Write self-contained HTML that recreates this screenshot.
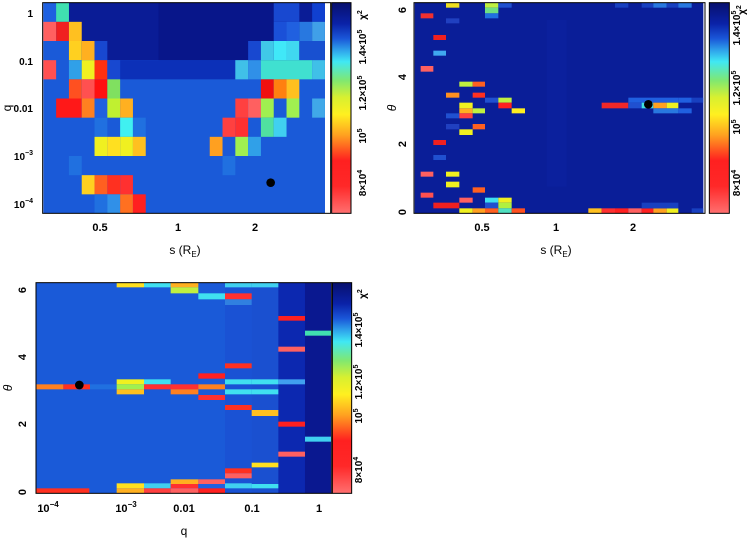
<!DOCTYPE html>
<html><head><meta charset="utf-8"><style>
html,body{margin:0;padding:0;background:#fff;width:754px;height:539px;overflow:hidden}
svg text{font-family:"Liberation Sans",sans-serif;fill:#000}
</style></head><body>
<svg width="754" height="539" viewBox="0 0 754 539" xmlns="http://www.w3.org/2000/svg">
<defs>
<linearGradient id="cb" x1="0" y1="0" x2="0" y2="1">
<stop offset="0" stop-color="#08106e"/>
<stop offset="0.1" stop-color="#0a22a8"/>
<stop offset="0.17" stop-color="#1a56d8"/>
<stop offset="0.23" stop-color="#30a8ec"/>
<stop offset="0.28" stop-color="#40e8f4"/>
<stop offset="0.37" stop-color="#80e870"/>
<stop offset="0.45" stop-color="#d8f030"/>
<stop offset="0.53" stop-color="#fff020"/>
<stop offset="0.63" stop-color="#ffa020"/>
<stop offset="0.75" stop-color="#ff2020"/>
<stop offset="0.87" stop-color="#ff2828"/>
<stop offset="1" stop-color="#ff7070"/>
</linearGradient>
</defs>

<!-- PANEL 1 -->
<g transform="scale(0.33333)">
<rect x="130" y="8" width="845" height="632" fill="#1a5ad8"/>
<g transform="translate(130,8) scale(38.4,57.5)">
<rect x="2" y="0" width="20" height="3" fill="#0a1c96"/>
<rect x="9" y="0" width="10" height="3" fill="#08168a"/>
<rect x="0" y="0" width="1" height="1" fill="#1e60e0"/><rect x="1" y="0" width="1" height="1" fill="#40e0b0"/>
<rect x="18" y="0" width="2" height="1" fill="#1848d0"/><rect x="21" y="0" width="1" height="1" fill="#1040d0"/>
<rect x="0" y="1" width="1" height="1" fill="#ff6060"/><rect x="1" y="1" width="1" height="1" fill="#f02020"/><rect x="2" y="1" width="1" height="1" fill="#ffc020"/>
<rect x="18" y="1" width="1" height="1" fill="#1a50d8"/><rect x="19" y="1" width="1" height="1" fill="#2060e0"/><rect x="20" y="1" width="1" height="1" fill="#2878e0"/><rect x="21" y="1" width="1" height="1" fill="#40a0e8"/>
<rect x="0" y="2" width="2" height="1" fill="#1a5ad8"/><rect x="2" y="2" width="1" height="1" fill="#ffd020"/><rect x="3" y="2" width="1" height="1" fill="#ffb020"/><rect x="4" y="2" width="1" height="1" fill="#1848d0"/>
<rect x="16" y="2" width="1" height="1" fill="#1848d0"/><rect x="17" y="2" width="1" height="1" fill="#40c8e8"/><rect x="18" y="2" width="1" height="1" fill="#40e8f8"/><rect x="19" y="2" width="1" height="1" fill="#40d8f0"/><rect x="20" y="2" width="2" height="1" fill="#1850d0"/>
<rect x="0" y="3" width="1" height="1" fill="#ff5050"/><rect x="2" y="3" width="1" height="1" fill="#30a0e8"/><rect x="3" y="3" width="1" height="1" fill="#f0f020"/><rect x="4" y="3" width="1" height="1" fill="#ff3010"/><rect x="5" y="3" width="1" height="1" fill="#1848d0"/>
<rect x="6" y="3" width="9" height="1" fill="#0c30b8"/><rect x="15" y="3" width="1" height="1" fill="#40c0e8"/><rect x="16" y="3" width="1" height="1" fill="#3090e8"/><rect x="17" y="3" width="4" height="1" fill="#40e0d0"/><rect x="21" y="3" width="1" height="1" fill="#40c0e8"/>
<rect x="2" y="4" width="1" height="1" fill="#ff5020"/><rect x="3" y="4" width="1" height="1" fill="#ff5050"/><rect x="4" y="4" width="1" height="1" fill="#ff1010"/><rect x="5" y="4" width="1" height="1" fill="#80e060"/>
<rect x="17" y="4" width="1" height="1" fill="#f01010"/><rect x="18" y="4" width="1" height="1" fill="#ff8010"/><rect x="19" y="4" width="1" height="1" fill="#ffc020"/>
<rect x="1" y="5" width="2" height="1" fill="#ff1818"/><rect x="3" y="5" width="1" height="1" fill="#ff8020"/><rect x="4" y="5" width="1" height="1" fill="#2060e0"/><rect x="5" y="5" width="1" height="1" fill="#c0f030"/><rect x="6" y="5" width="1" height="1" fill="#ffb020"/>
<rect x="15" y="5" width="1" height="1" fill="#ff4040"/><rect x="16" y="5" width="1" height="1" fill="#ff6060"/><rect x="17" y="5" width="1" height="1" fill="#a0f050"/><rect x="19" y="5" width="1" height="1" fill="#a0f050"/><rect x="21" y="5" width="1" height="1" fill="#40a8e8"/>
<rect x="4" y="6" width="1" height="1" fill="#2070e0"/><rect x="6" y="6" width="1" height="1" fill="#40f0f0"/><rect x="7" y="6" width="1" height="1" fill="#2070e0"/><rect x="14" y="6" width="1" height="1" fill="#ff4040"/><rect x="15" y="6" width="1" height="1" fill="#ff3030"/><rect x="17" y="6" width="1" height="1" fill="#50e0a0"/><rect x="18" y="6" width="1" height="1" fill="#40d0f0"/>
<rect x="4" y="7" width="1" height="1" fill="#f0f020"/><rect x="5" y="7" width="1" height="1" fill="#ffe020"/><rect x="6" y="7" width="1" height="1" fill="#f0f020"/><rect x="7" y="7" width="1" height="1" fill="#ffc020"/><rect x="13" y="7" width="1" height="1" fill="#ffa020"/><rect x="15" y="7" width="1" height="1" fill="#a0f050"/><rect x="16" y="7" width="1" height="1" fill="#30a0e8"/>
<rect x="2" y="8" width="1" height="1" fill="#2070e0"/><rect x="14" y="8" width="1" height="1" fill="#2070e0"/>
<rect x="3" y="9" width="1" height="1" fill="#ffd020"/><rect x="4" y="9" width="1" height="1" fill="#ff6020"/><rect x="5" y="9" width="1" height="1" fill="#ff3020"/><rect x="6" y="9" width="1" height="1" fill="#ff3030"/>
<rect x="4" y="10" width="1" height="1" fill="#2070e0"/><rect x="5" y="10" width="1" height="1" fill="#3090e8"/><rect x="6" y="10" width="1" height="1" fill="#ff7020"/><rect x="7" y="10" width="1" height="1" fill="#ff2020"/>
</g>
<circle cx="812" cy="548" r="13" fill="#000"/>
<rect x="128" y="8" width="864" height="632" fill="none" stroke="#000" stroke-width="3"/>
<rect x="995" y="8" width="58" height="632" fill="url(#cb)" stroke="#000" stroke-width="3"/>
</g>
<text transform="translate(11,108) rotate(-90)" font-size="12" text-anchor="middle">q</text>
<g font-size="10" font-weight="bold" text-anchor="end">
<text x="33" y="17">1</text>
<text x="33" y="65">0.1</text>
<text x="33" y="112">0.01</text>
<text x="33" y="160">10<tspan dy="-5" font-size="7">−3</tspan></text>
<text x="33" y="208">10<tspan dy="-5" font-size="7">−4</tspan></text>
</g>
<g font-size="11" font-weight="bold" text-anchor="middle">
<text x="100" y="231">0.5</text>
<text x="178" y="231">1</text>
<text x="255" y="231">2</text>
</g>
<text x="185" y="254" font-size="12" text-anchor="middle">s (R<tspan dy="3" font-size="8">E</tspan><tspan dy="-3">)</tspan></text>
<g font-size="10" font-weight="bold">
<text transform="translate(366,15) rotate(-90)" text-anchor="middle">χ<tspan dy="-4" font-size="7">2</tspan></text>
<text transform="translate(366,47) rotate(-90)" text-anchor="middle">1.4×10<tspan dy="-4" font-size="7">5</tspan></text>
<text transform="translate(366,93) rotate(-90)" text-anchor="middle">1.2×10<tspan dy="-4" font-size="7">5</tspan></text>
<text transform="translate(366,136) rotate(-90)" text-anchor="middle">10<tspan dy="-4" font-size="7">5</tspan></text>
<text transform="translate(366,183) rotate(-90)" text-anchor="middle">8×10<tspan dy="-4" font-size="7">4</tspan></text>
</g>

<!-- PANEL 2 -->
<g transform="translate(380,0) scale(0.33333)">
<rect x="104" y="8" width="866" height="632" fill="#0a1e98"/>
<rect x="500" y="60" width="60" height="500" fill="#0c22a0" opacity="0.6"/>
<g>
<rect x="198" y="8" width="40" height="15" fill="#f0e020"/>
<rect x="315" y="8" width="40" height="15" fill="#c0f040"/><rect x="355" y="8" width="40" height="15" fill="#2050d0"/>
<rect x="122" y="40" width="38" height="15" fill="#f03030"/>
<rect x="315" y="23" width="40" height="17" fill="#70e080"/><rect x="315" y="40" width="40" height="15" fill="#2070e0"/>
<rect x="198" y="55" width="40" height="15" fill="#2040c0"/>
<rect x="160" y="105" width="38" height="15" fill="#f02020"/>
<rect x="160" y="152" width="38" height="15" fill="#40a8f0"/>
<rect x="122" y="198" width="38" height="17" fill="#ff6060"/>
<rect x="238" y="245" width="40" height="15" fill="#c0f040"/><rect x="278" y="245" width="37" height="15" fill="#ff6020"/>
<rect x="198" y="278" width="40" height="15" fill="#ff9020"/><rect x="278" y="278" width="37" height="15" fill="#ff3020"/>
<rect x="315" y="293" width="40" height="15" fill="#2050d0"/><rect x="355" y="293" width="40" height="15" fill="#c0f040"/>
<rect x="238" y="308" width="40" height="17" fill="#f0f020"/><rect x="355" y="308" width="40" height="17" fill="#ff2020"/>
<rect x="238" y="325" width="40" height="15" fill="#ffb020"/><rect x="278" y="325" width="37" height="15" fill="#c0f040"/><rect x="395" y="325" width="40" height="15" fill="#ffee20"/>
<rect x="198" y="340" width="40" height="15" fill="#2050d0"/><rect x="238" y="340" width="40" height="15" fill="#ff4040"/>
<rect x="198" y="372" width="40" height="16" fill="#2040c0"/><rect x="278" y="372" width="37" height="16" fill="#ff6020"/>
<rect x="238" y="388" width="40" height="17" fill="#f0f020"/>
<rect x="160" y="420" width="38" height="15" fill="#f02020"/>
<rect x="160" y="465" width="38" height="15" fill="#2050d0"/>
<rect x="122" y="515" width="38" height="15" fill="#ff6060"/>
<rect x="198" y="515" width="40" height="15" fill="#f0f020"/>
<rect x="198" y="545" width="40" height="17" fill="#f0f020"/>
<rect x="278" y="562" width="37" height="16" fill="#ff6020"/>
<rect x="122" y="578" width="38" height="15" fill="#ff5050"/>
<rect x="238" y="593" width="40" height="15" fill="#ff6060"/>
<rect x="315" y="593" width="40" height="15" fill="#40e0f0"/><rect x="355" y="593" width="40" height="15" fill="#f0f020"/>
<rect x="160" y="608" width="78" height="17" fill="#f02020"/><rect x="315" y="608" width="40" height="17" fill="#2050d0"/><rect x="355" y="608" width="40" height="17" fill="#b0f040"/>
<rect x="238" y="625" width="40" height="15" fill="#f0f020"/><rect x="278" y="625" width="37" height="15" fill="#ffa020"/><rect x="315" y="625" width="40" height="15" fill="#ff6020"/><rect x="355" y="625" width="40" height="15" fill="#50e0c0"/><rect x="395" y="625" width="40" height="15" fill="#ff5020"/>
<rect x="625" y="625" width="40" height="15" fill="#ffc020"/><rect x="665" y="625" width="40" height="15" fill="#ff3030"/><rect x="705" y="625" width="40" height="15" fill="#ff2020"/><rect x="745" y="625" width="40" height="15" fill="#ff6060"/><rect x="785" y="625" width="35" height="15" fill="#ff2020"/><rect x="820" y="625" width="40" height="15" fill="#ffa020"/><rect x="860" y="625" width="35" height="15" fill="#f0f020"/><rect x="935" y="625" width="35" height="15" fill="#1840c0"/>
<rect x="785" y="608" width="110" height="17" fill="#1840c0"/>
<rect x="745" y="293" width="150" height="15" fill="#2060e0"/><rect x="895" y="293" width="40" height="15" fill="#2060e0"/><rect x="935" y="293" width="35" height="15" fill="#1840c0"/>
<rect x="665" y="308" width="80" height="17" fill="#f02828"/><rect x="745" y="308" width="40" height="17" fill="#2050d0"/><rect x="785" y="308" width="35" height="17" fill="#40e0e0"/><rect x="820" y="308" width="40" height="17" fill="#ffa020"/><rect x="860" y="308" width="35" height="17" fill="#f0f020"/>
<rect x="820" y="325" width="75" height="15" fill="#2878e0"/><rect x="895" y="325" width="40" height="15" fill="#2060e0"/>
<rect x="705" y="8" width="40" height="15" fill="#1840c0"/><rect x="785" y="8" width="35" height="15" fill="#1840c0"/><rect x="820" y="8" width="40" height="15" fill="#2878e0"/><rect x="860" y="8" width="35" height="15" fill="#1840c0"/><rect x="895" y="8" width="40" height="15" fill="#2878e0"/>
</g>
<circle cx="805" cy="313" r="13" fill="#000"/>
<rect x="102" y="8" width="873" height="632" fill="none" stroke="#000" stroke-width="3"/>
<rect x="988" y="8" width="60" height="632" fill="url(#cb)" stroke="#000" stroke-width="3"/>
</g>
<text transform="translate(396,108) rotate(-90)" font-size="12" text-anchor="middle" font-style="italic">θ</text>
<g font-size="11" font-weight="bold" text-anchor="middle">
<text transform="translate(406,212) rotate(-90)">0</text>
<text transform="translate(406,144) rotate(-90)">2</text>
<text transform="translate(406,77) rotate(-90)">4</text>
<text transform="translate(406,10) rotate(-90)">6</text>
<text x="482" y="231">0.5</text><text x="556" y="231">1</text><text x="633" y="231">2</text>
</g>
<text x="556" y="254" font-size="12" text-anchor="middle">s (R<tspan dy="3" font-size="8">E</tspan><tspan dy="-3">)</tspan></text>
<g font-size="10" font-weight="bold">
<text transform="translate(745,10) rotate(-90)" text-anchor="middle">χ<tspan dy="-4" font-size="7">2</tspan></text>
<text transform="translate(740,28) rotate(-90)" text-anchor="middle">1.4×10<tspan dy="-4" font-size="7">5</tspan></text>
<text transform="translate(740,88) rotate(-90)" text-anchor="middle">1.2×10<tspan dy="-4" font-size="7">5</tspan></text>
<text transform="translate(740,127) rotate(-90)" text-anchor="middle">10<tspan dy="-4" font-size="7">5</tspan></text>
<text transform="translate(740,183) rotate(-90)" text-anchor="middle">8×10<tspan dy="-4" font-size="7">4</tspan></text>
</g>

<!-- PANEL 3 -->
<g transform="translate(0,280) scale(0.33333)">
<rect x="108" y="8" width="885" height="632" fill="#1a5ad8"/>
<rect x="675" y="8" width="80" height="632" fill="#1a52d4"/>
<rect x="755" y="8" width="80" height="632" fill="#1a50d0"/>
<rect x="835" y="8" width="80" height="632" fill="#0c28b0"/>
<rect x="915" y="8" width="78" height="632" fill="#0a1890"/>
<rect x="108" y="625" width="160" height="15" fill="#ff3020"/>
<rect x="108" y="313" width="82" height="15" fill="#ff8020"/><rect x="190" y="313" width="80" height="15" fill="#ff3020"/><rect x="270" y="313" width="80" height="15" fill="#2070e0"/>
<rect x="350" y="8" width="82" height="14" fill="#ffe020"/><rect x="350" y="298" width="82" height="15" fill="#f0f020"/><rect x="350" y="313" width="82" height="15" fill="#a0f050"/><rect x="350" y="328" width="82" height="15" fill="#ffc020"/><rect x="350" y="610" width="82" height="15" fill="#ffe020"/><rect x="350" y="625" width="82" height="15" fill="#ffb020"/>
<rect x="432" y="8" width="80" height="14" fill="#40e0f0"/><rect x="432" y="298" width="80" height="15" fill="#40e0f0"/><rect x="432" y="313" width="80" height="15" fill="#ff3030"/><rect x="432" y="610" width="80" height="15" fill="#40d0f0"/><rect x="432" y="625" width="80" height="15" fill="#ff4040"/>
<rect x="512" y="8" width="83" height="14" fill="#ffb020"/><rect x="512" y="22" width="83" height="18" fill="#c0f040"/><rect x="512" y="313" width="83" height="15" fill="#ff3030"/><rect x="512" y="328" width="83" height="15" fill="#ff8020"/><rect x="512" y="598" width="83" height="14" fill="#ffb020"/><rect x="512" y="612" width="83" height="13" fill="#ff3030"/><rect x="512" y="625" width="83" height="15" fill="#ff6060"/>
<rect x="595" y="40" width="80" height="18" fill="#40e0f0"/><rect x="595" y="280" width="80" height="16" fill="#ff2020"/><rect x="595" y="313" width="80" height="15" fill="#ff8020"/><rect x="595" y="345" width="80" height="15" fill="#ff3030"/><rect x="595" y="598" width="80" height="14" fill="#ff6060"/><rect x="595" y="612" width="80" height="13" fill="#2060e0"/><rect x="595" y="625" width="80" height="15" fill="#ff2020"/>
<rect x="675" y="8" width="80" height="14" fill="#40d0f0"/><rect x="675" y="40" width="80" height="18" fill="#ff3030"/><rect x="675" y="58" width="80" height="17" fill="#3080e0"/><rect x="675" y="250" width="80" height="15" fill="#ff3020"/><rect x="675" y="298" width="80" height="15" fill="#40e0f0"/><rect x="675" y="328" width="80" height="15" fill="#40e0f0"/><rect x="675" y="375" width="80" height="15" fill="#ff3020"/><rect x="675" y="565" width="80" height="15" fill="#ff3020"/><rect x="675" y="580" width="80" height="15" fill="#ff6060"/><rect x="675" y="610" width="80" height="15" fill="#40d0f0"/>
<rect x="755" y="8" width="80" height="14" fill="#40d0f0"/><rect x="755" y="298" width="80" height="15" fill="#40e0f0"/><rect x="755" y="328" width="80" height="15" fill="#40e0f0"/><rect x="755" y="390" width="80" height="18" fill="#ffc020"/><rect x="755" y="548" width="80" height="14" fill="#ffe020"/><rect x="755" y="612" width="80" height="13" fill="#40e0f0"/>
<rect x="835" y="108" width="80" height="14" fill="#ff2020"/><rect x="835" y="200" width="80" height="15" fill="#ff6060"/><rect x="835" y="298" width="80" height="15" fill="#40a0f0"/><rect x="835" y="425" width="80" height="15" fill="#ff2020"/><rect x="835" y="515" width="80" height="15" fill="#ff6060"/>
<rect x="915" y="152" width="78" height="15" fill="#40e0b0"/><rect x="915" y="470" width="78" height="15" fill="#40d0f0"/>
<circle cx="238" cy="315" r="13" fill="#000"/>
<rect x="108" y="8" width="887" height="632" fill="none" stroke="#000" stroke-width="3"/>
<rect x="997" y="8" width="58" height="632" fill="url(#cb)" stroke="#000" stroke-width="3"/>
</g>
<text transform="translate(12,388) rotate(-90)" font-size="12" text-anchor="middle" font-style="italic">θ</text>
<g font-size="11" font-weight="bold" text-anchor="middle">
<text transform="translate(26,492) rotate(-90)">0</text>
<text transform="translate(26,424) rotate(-90)">2</text>
<text transform="translate(26,357) rotate(-90)">4</text>
<text transform="translate(26,290) rotate(-90)">6</text>
<text x="48" y="512">10<tspan dy="-5" font-size="8">−4</tspan></text>
<text x="126" y="512">10<tspan dy="-5" font-size="8">−3</tspan></text>
<text x="184" y="512">0.01</text>
<text x="252" y="512">0.1</text>
<text x="319" y="512">1</text>
</g>
<text x="184" y="535" font-size="12" text-anchor="middle">q</text>
<g font-size="10" font-weight="bold">
<text transform="translate(366,294) rotate(-90)" text-anchor="middle">χ<tspan dy="-4" font-size="7">2</tspan></text>
<text transform="translate(362,330) rotate(-90)" text-anchor="middle">1.4×10<tspan dy="-4" font-size="7">5</tspan></text>
<text transform="translate(362,382) rotate(-90)" text-anchor="middle">1.2×10<tspan dy="-4" font-size="7">5</tspan></text>
<text transform="translate(362,416) rotate(-90)" text-anchor="middle">10<tspan dy="-4" font-size="7">5</tspan></text>
<text transform="translate(362,470) rotate(-90)" text-anchor="middle">8×10<tspan dy="-4" font-size="7">4</tspan></text>
</g>
</svg>
</body></html>
